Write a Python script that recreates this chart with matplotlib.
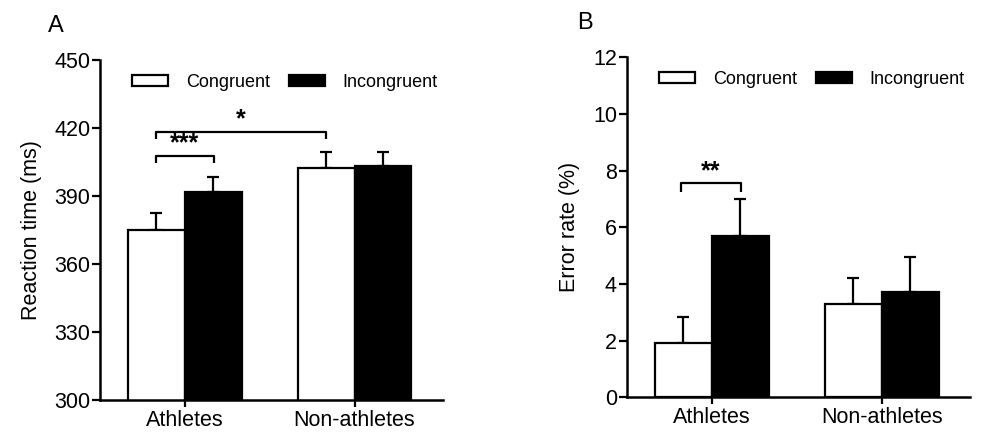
import matplotlib.pyplot as plt
from matplotlib.patches import Patch
import numpy as np

plt.rcParams['font.family'] = ['Liberation Sans', 'DejaVu Sans']

groups = ["Athletes", "Non-athletes"]
conditions = ["Congruent", "Incongruent"]

rt_mean = {"Congruent": [375.0, 402.5], "Incongruent": [391.9, 403.2]}
rt_sem = {"Congruent": [7.5, 7.1], "Incongruent": [6.6, 6.4]}

err_mean = {"Congruent": [1.9, 3.3], "Incongruent": [5.7, 3.73]}
err_sem = {"Congruent": [0.95, 0.92], "Incongruent": [1.3, 1.23]}

fills = {"Congruent": "white", "Incongruent": "black"}


def panel(ax, means, sems, ylim, yticks, ylabel, letter, letter_x):
    x = np.arange(len(groups))
    w = 0.335
    for i, cond in enumerate(conditions):
        pos = x + (i - 0.5) * w
        ax.bar(pos, means[cond], w, bottom=0, color=fills[cond],
               edgecolor="black", linewidth=1.6, zorder=2)
        ax.errorbar(pos, means[cond],
                    yerr=[np.zeros(len(groups)), sems[cond]],
                    fmt="none", ecolor="black", elinewidth=1.6,
                    capsize=4, capthick=1.6, zorder=1)
    ax.set_xlim(-0.5, 1.52)
    ax.set_ylim(*ylim)
    ax.set_yticks(yticks)
    ax.set_xticks(x)
    ax.set_xticklabels(groups, fontsize=15.5)
    ax.tick_params(axis="y", labelsize=15.5, width=1.6, length=6, pad=1)
    ax.tick_params(axis="x", width=1.6, length=5, pad=2)
    for s in ["top", "right"]:
        ax.spines[s].set_visible(False)
    for s in ["left", "bottom"]:
        ax.spines[s].set_linewidth(1.8)
    ax.set_ylabel(ylabel, fontsize=15.5, labelpad=9)
    handles = [Patch(facecolor=fills[c], edgecolor="black", linewidth=1.6, label=c)
               for c in conditions]
    ax.legend(handles=handles, ncol=2, frameon=False, fontsize=13,
              loc="center", bbox_to_anchor=(0.54, 0.935),
              handlelength=2.0, handleheight=0.55, handletextpad=1.0,
              columnspacing=1.0)
    ax.text(letter_x, 1.082, letter, transform=ax.transAxes, fontsize=17,
            ha="left", va="baseline")


def bracket(ax, x1, x2, y, h, label):
    ax.plot([x1, x1, x2, x2], [y - h, y, y, y - h], color="black",
            linewidth=1.6, solid_capstyle="butt")
    ax.text((x1 + x2) / 2, y, label, ha="center", va="bottom",
            fontsize=18, fontweight="bold")


fig = plt.figure(figsize=(9.84, 4.33), dpi=100)
axA = fig.add_axes([0.1016, 0.0762, 0.3484, 0.7852])
axB = fig.add_axes([0.6369, 0.0824, 0.3489, 0.7853])

panel(axA, rt_mean, rt_sem, (300, 450), [300, 330, 360, 390, 420, 450],
      "Reaction time (ms)", "A", -0.152)
panel(axB, err_mean, err_sem, (0, 12), [0, 2, 4, 6, 8, 10, 12],
      "Error rate (%)", "B", -0.145)

bracket(axA, -0.17, 0.17, 407.8, 3.3, "***")
bracket(axA, -0.17, 0.83, 418.4, 3.3, "*")
bracket(axB, -0.18, 0.17, 7.55, 0.3, "**")

fig.savefig("out.png", dpi=100)
